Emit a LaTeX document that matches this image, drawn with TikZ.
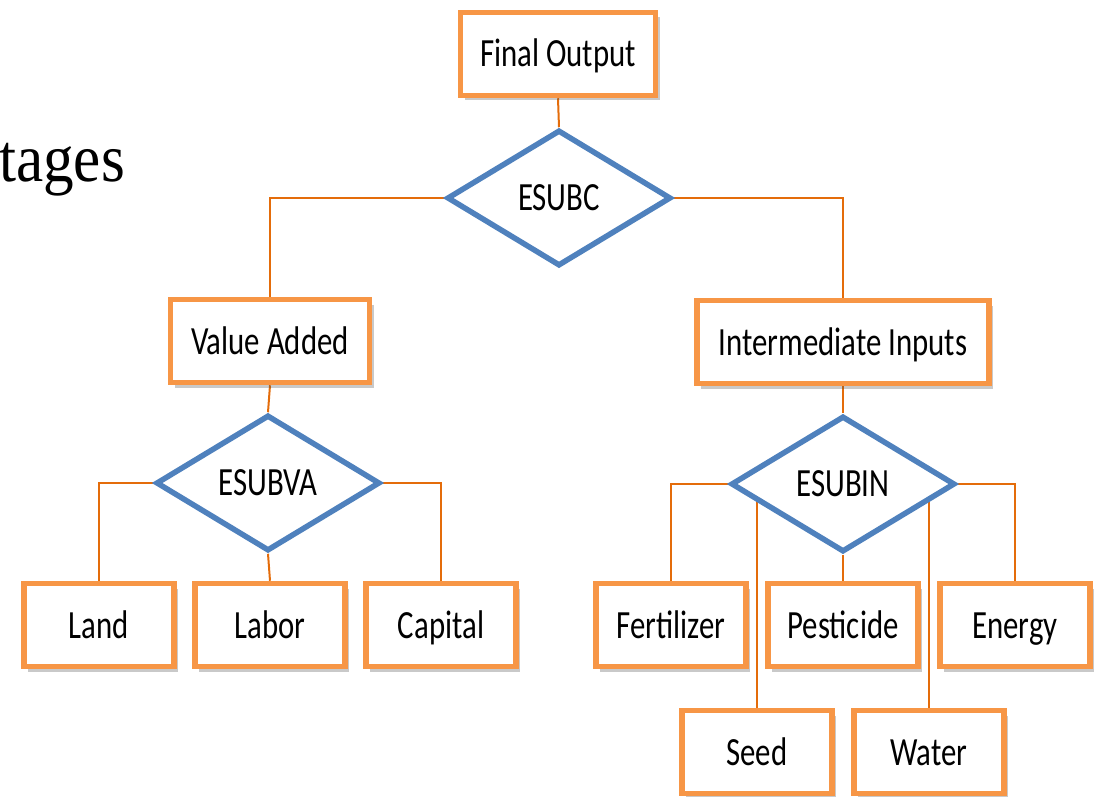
\documentclass[tikz,border=0pt]{standalone}
\usepackage{fontspec}
\setmainfont{Carlito}
\newfontfamily\slidefont{Liberation Serif}
\usetikzlibrary{shapes.geometric,shadows,backgrounds}

\definecolor{boxorange}{HTML}{F79646}
\definecolor{linkorange}{HTML}{E46C0A}
\definecolor{esubblue}{HTML}{4F81BD}
\newcommand{\lbl}[1]{\scalebox{0.77}[1]{#1}}

\tikzset{
	box/.style={draw=boxorange, line width=5.5pt, fill=white, minimum height=83pt,
		inner sep=0pt, text height=26pt, text depth=0pt, font=\fontsize{40}{44}\selectfont,
		drop shadow={shadow xshift=4pt, shadow yshift=-5pt, opacity=0.3, fill=black!70}},
	esub/.style={diamond, draw=esubblue, line width=5.5pt, fill=white, inner sep=0pt,
		minimum width=224pt, minimum height=136pt, font=\fontsize{40}{44}\selectfont},
	link/.style={draw=linkorange, line width=2pt}
}

\begin{document}
\begin{tikzpicture}[x=1pt,y=-1pt]
			\useasboundingbox (0,0) rectangle (1095,797);
			\node[anchor=base west, inner sep=0pt, font=\slidefont\fontsize{68}{70}\selectfont] (title) at (-1,181) {\scalebox{0.9}[1]{tages}};
			% top level
			\node[box, minimum width=195pt] (fo) at (558,54) {\lbl{Final Output}};
			\node[esub] (esubc) at (559,198) {\lbl{ESUBC}};
			\node[box, minimum width=199pt] (va) at (270,341) {\lbl{Value Added}};
			\node[box, minimum width=292pt] (ii) at (843,342) {\lbl{Intermediate Inputs}};
			% value added nest
			\node[esub] (esubva) at (268,483) {\lbl{ESUBVA}};
			\node[box, minimum width=150pt] (land) at (99,625) {\lbl{Land}};
			\node[box, minimum width=150pt] (labor) at (270,625) {\lbl{Labor}};
			\node[box, minimum width=150pt] (capital) at (441,625) {\lbl{Capital}};
			% intermediate nest
			\node[esub] (esubin) at (843,484) {\lbl{ESUBIN}};
			\node[box, minimum width=150pt] (fert) at (671,625) {\lbl{Fertilizer}};
			\node[box, minimum width=150pt] (pest) at (843,625) {\lbl{Pesticide}};
			\node[box, minimum width=150pt] (energy) at (1015,625) {\lbl{Energy}};
			\node[box, minimum width=150pt] (seed) at (757,752) {\lbl{Seed}};
			\node[box, minimum width=150pt] (water) at (929,752) {\lbl{Water}};
			\begin{scope}[on background layer]
				\draw[link] (fo.south) -- (esubc.north);
				\draw[link] (esubc.west) -| (va.north);
				\draw[link] (esubc.east) -| (ii.north);
				\draw[link] (va.south) -- (esubva.north);
				\draw[link] (ii.south) -- (esubin.north);
				\draw[link] (esubva.west) -| (land.north);
				\draw[link] (esubva.south) -- (labor.north);
				\draw[link] (esubva.east) -| (capital.north);
				\draw[link] (esubin.west) -| (fert.north);
				\draw[link] (esubin.south) -- (pest.north);
				\draw[link] (esubin.east) -| (energy.north);
				\draw[link] (esubin.center -| seed.north) -- (seed.north);
				\draw[link] (esubin.center -| water.north) -- (water.north);
			\end{scope}
		\end{tikzpicture}
\end{document}
